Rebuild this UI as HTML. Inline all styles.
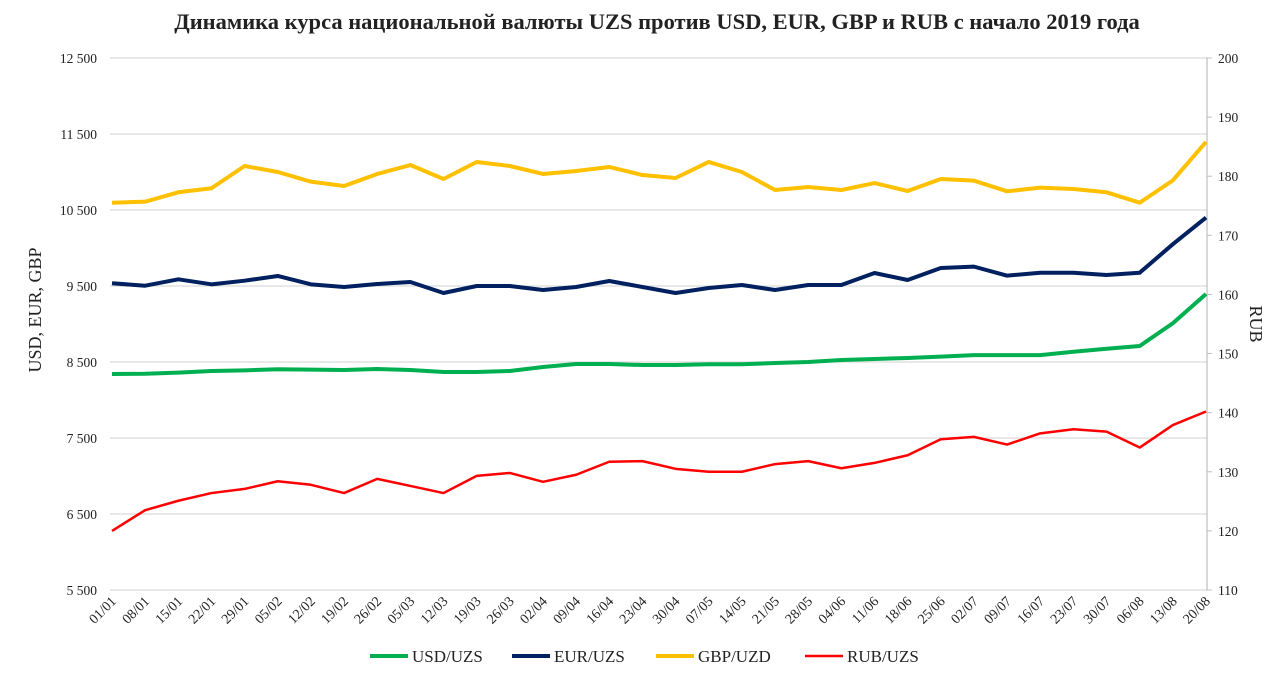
<!DOCTYPE html>
<html><head><meta charset="utf-8"><style>
body{margin:0;background:#fff;}
svg text{font-family:"Liberation Serif",serif;fill:#222;}
</style></head><body>
<svg id="chart" width="1280" height="691" xmlns="http://www.w3.org/2000/svg">
<text x="657" y="29" text-anchor="middle" font-size="22.5" font-weight="bold" fill="#111">Динамика курса национальной валюты UZS против USD, EUR, GBP и RUB с начало 2019 года</text>
<text transform="translate(41,310) rotate(-90)" text-anchor="middle" font-size="18">USD, EUR, GBP</text>
<text transform="translate(1250,324) rotate(90)" text-anchor="middle" font-size="18">RUB</text>
<g id="grid"></g><g id="axes"></g><g id="series"></g>
<g id="legend"></g>
</svg>
<script>
const categories=["01/01","08/01","15/01","22/01","29/01","05/02","12/02","19/02","26/02","05/03","12/03","19/03","26/03","02/04","09/04","16/04","23/04","30/04","07/05","14/05","21/05","28/05","04/06","11/06","18/06","25/06","02/07","09/07","16/07","23/07","30/07","06/08","13/08","20/08"];
const usd=[8342,8345,8360,8382,8390,8404,8400,8395,8408,8395,8368,8368,8382,8434,8474,8474,8460,8460,8470,8470,8487,8500,8526,8540,8553,8570,8590,8590,8590,8635,8675,8711,9010,9395];
const eur=[9536,9504,9588,9522,9570,9632,9522,9487,9526,9553,9408,9500,9500,9447,9487,9566,9487,9408,9474,9513,9447,9513,9513,9671,9579,9737,9755,9636,9675,9675,9645,9675,10050,10400];
const gbp=[10596,10610,10733,10786,11079,11000,10873,10816,10974,11092,10908,11132,11079,10974,11013,11066,10960,10921,11132,11000,10763,10803,10763,10855,10750,10908,10886,10746,10794,10776,10733,10596,10890,11395];
const rub=[120.0,123.5,125.1,126.4,127.1,128.4,127.8,126.4,128.8,127.6,126.4,129.3,129.8,128.3,129.5,131.7,131.8,130.5,130.0,130.0,131.3,131.8,130.6,131.5,132.8,135.5,135.9,134.6,136.5,137.2,136.8,134.1,137.9,140.2];
const leftTicks=[5500,6500,7500,8500,9500,10500,11500,12500];
const rightTicks=[110,120,130,140,150,160,170,180,190,200];
const NS="http://www.w3.org/2000/svg";
const X0=112,X1=1206,Y0=590,Y1=58,GL=110,GR=1207;
const xs=i=>X0+(X1-X0)*i/(categories.length-1);
const yl=v=>Y0-(v-5500)/(12500-5500)*(Y0-Y1);
const yr=v=>Y0-(v-110)/(200-110)*(Y0-Y1);
const fmt=v=>String(v).replace(/\B(?=(\d{3})+(?!\d))/g," ");
function mk(tag,attrs,parent,txt){const e=document.createElementNS(NS,tag);for(const k in attrs)e.setAttribute(k,attrs[k]);if(txt!==undefined)e.textContent=txt;parent.appendChild(e);return e;}
const grid=document.getElementById('grid'),axes=document.getElementById('axes'),ser=document.getElementById('series'),leg=document.getElementById('legend');
leftTicks.forEach(v=>{
 const l=mk('line',{x1:GL,x2:GR,y1:yl(v),y2:yl(v),stroke:'#d9d9d9','stroke-width':1.3},grid);
 
 
 const t=mk('text',{x:97,y:yl(v)+5,'text-anchor':'end','font-size':13.5},axes,fmt(v));
 
 
});
const ax=mk('line',{x1:GR,x2:GR,y1:Y1,y2:Y0,stroke:'#bfbfbf','stroke-width':1.2},axes);


rightTicks.forEach(v=>{
 mk('line',{x1:GR,x2:GR+5,y1:yr(v),y2:yr(v),stroke:'#bfbfbf'},axes);
 const t=mk('text',{x:1218,y:yr(v)+5,'font-size':13.5},axes,v);
 
 
});
categories.forEach((c,i)=>{
 const t=mk('text',{transform:`translate(${xs(i)+5},${Y0+12}) rotate(-45)`,'text-anchor':'end','font-size':14},axes,c);
 
 
});
const series=[["usd-uzs-line",usd,yl,"#00b050",4,"USD/UZS"],["eur-uzs-line",eur,yl,"#002060",4,"EUR/UZS"],["gbp-uzd-line",gbp,yl,"#ffc000",4,"GBP/UZD"],["rub-uzs-line",rub,yr,"#ff0000",2.5,"RUB/UZS"]];
const legX=[370,512,656,805];
series.forEach((s,k)=>{
 const p=mk('polyline',{points:s[1].map((v,i)=>xs(i)+','+s[2](v)).join(' '),fill:'none',stroke:s[3],'stroke-width':s[4],'stroke-linejoin':'round'},ser);
 
 
 const g=mk('g',{},leg);
 
 
 mk('line',{x1:legX[k],x2:legX[k]+38,y1:656,y2:656,stroke:s[3],'stroke-width':s[4]},g);
 mk('text',{x:legX[k]+42,y:662,'font-size':17},g,s[5]);
});
</script>
</body></html>
